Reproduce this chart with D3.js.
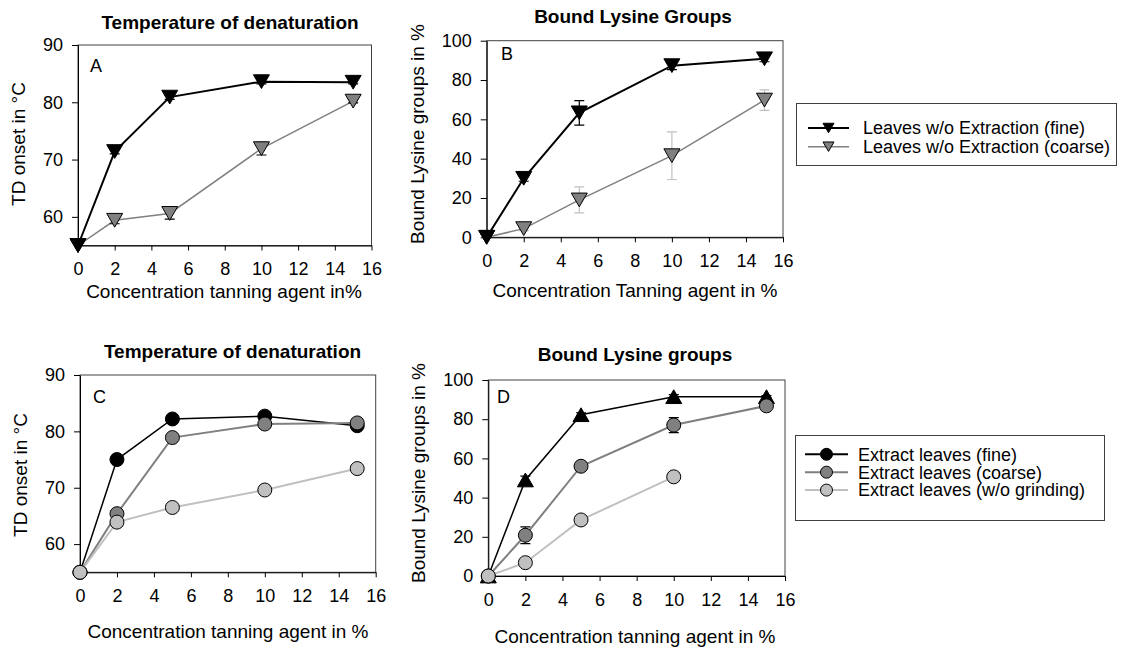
<!DOCTYPE html>
<html>
<head>
<meta charset="utf-8">
<script src="https://cdn.jsdelivr.net/npm/d3@7"></script>
<style>
  body { margin: 0; background: #fff; }
  svg { display: block; font-family: "Liberation Sans", Arial, sans-serif; }
</style>
</head>
<body>
<div id="chart"></div>
<script>
// concentrations of tanning agent (%)
const concentrations = [0, 2, 5, 10, 15];
const xTicks = [0, 2, 4, 6, 8, 10, 12, 14, 16];

// A: TD onset, leaves without extraction
const tdFine = [55, 71.4, 80.9, 83.6, 83.5];
const tdFineErr = [0, 0.4, 0.4, 0.4, 0.3];
const tdCoarse = [55, 59.4, 60.6, 71.9, 80.2];
const tdCoarseErr = [0, 0.6, 1.0, 1.1, 0.3];

// B: bound lysine groups, leaves without extraction
const lysFine = [0, 30, 63.3, 87.3, 90.8];
const lysFineErr = [0, 1.5, 6.2, 2, 1.5];
const lysCoarse = [0, 4.4, 19, 41.5, 69.8];
const lysCoarseErr = [0, 1, 6.6, 12.1, 5.2];

// C: TD onset, extracted leaves
const extTdFine = [55, 75, 82.2, 82.7, 81.0];
const extTdCoarse = [55, 65.4, 78.9, 81.3, 81.5];
const extTdWo = [55, 63.9, 66.5, 69.6, 73.4];

// D: bound lysine groups, extracted leaves
const extLysFine = [0, 49, 82.3, 91.5, 91.5];
const extLysFineErr = [0, 2, 1, 1, 0.5];
const extLysCoarse = [0, 20.8, 56, 77, 86.8];
const extLysCoarseErr = [0, 4.3, 1.5, 3.8, 1];
const extLysWo = [0, 6.8, 28.6, 50.6];

const legendTop = ["Leaves w/o Extraction (fine)", "Leaves w/o Extraction (coarse)"];
const legendBottom = ["Extract leaves (fine)", "Extract leaves (coarse)", "Extract leaves (w/o grinding)"];

const W = 1131, H = 648;
const svg = d3.select("#chart").append("svg").attr("width", W).attr("height", H);

function pts(vals, errs) {
  return vals.map((v, i) => ({x: concentrations[i], y: v, e: errs ? errs[i] : 0}));
}

function markerPath(shape, size) {
  const w = size / 2, h = size * 0.43;
  if (shape === "down") return "M" + (-w) + "," + (-h) + "L" + w + "," + (-h) + "L0," + h + "Z";
  if (shape === "up") return "M" + (-w) + "," + h + "L" + w + "," + h + "L0," + (-h) + "Z";
  return null;
}

function drawMarker(g, shape, x, y, size, fill, stroke) {
  if (shape === "circle") {
    g.append("circle").attr("cx", x).attr("cy", y).attr("r", size / 2)
      .attr("fill", fill).attr("stroke", stroke).attr("stroke-width", 1);
  } else {
    g.append("path").attr("d", markerPath(shape, size))
      .attr("transform", "translate(" + x + "," + y + ")")
      .attr("fill", fill).attr("stroke", stroke).attr("stroke-width", 1);
  }
}

function drawPanel(p) {
  const x = d3.scaleLinear().domain([0, 16]).range([p.left, p.right]);
  const y = d3.scaleLinear().domain(p.yDomain).range([p.bottom, p.top]);
  const g = svg.append("g");

  // frame
  g.append("rect").attr("x", p.left).attr("y", p.top)
    .attr("width", p.right - p.left).attr("height", p.bottom - p.top)
    .attr("fill", "none").attr("stroke", "#404040").attr("stroke-width", 1);

  const xAxis = g.append("g").attr("transform", "translate(0," + p.bottom + ")")
    .call(d3.axisBottom(x).tickValues(xTicks).tickSizeInner(5).tickSizeOuter(0).tickPadding(12));
  const yAxis = g.append("g").attr("transform", "translate(" + p.left + ",0)")
    .call(d3.axisLeft(y).tickValues(p.yTicks).tickSizeInner(6).tickSizeOuter(0).tickPadding(9));
  [xAxis, yAxis].forEach(a => {
    a.selectAll("text").attr("font-size", 18).attr("fill", "#000")
      .attr("font-family", "Liberation Sans, Arial, sans-serif");
    a.selectAll("line, path").attr("stroke", "#000");
  });
  xAxis.selectAll("text").attr("dy", "0.71em");

  g.append("text").attr("x", p.titleX).attr("y", p.titleY).attr("text-anchor", "middle")
    .attr("font-size", 19).attr("font-weight", "bold").text(p.title);
  g.append("text").attr("x", p.xTitleX).attr("y", p.xTitleY).attr("text-anchor", "middle")
    .attr("font-size", 19).text(p.xTitle);
  g.append("text").attr("transform", "translate(" + p.yTitleX + "," + p.yTitleY + ") rotate(-90)")
    .attr("text-anchor", "middle").attr("font-size", 19).text(p.yTitle);
  g.append("text").attr("x", p.letterX).attr("y", p.letterY).attr("font-size", 18).text(p.letter);

  const line = d3.line().x(d => x(d.x)).y(d => y(d.y));
  p.series.forEach(s => {
    const sg = g.append("g");
    sg.append("path").datum(s.data).attr("d", line)
      .attr("fill", "none").attr("stroke", s.color).attr("stroke-width", s.width);
    s.data.filter(d => d.e > 0).forEach(d => {
      const cx = x(d.x), y0 = y(d.y - d.e), y1 = y(d.y + d.e);
      sg.append("path")
        .attr("d", "M" + cx + "," + y0 + "V" + y1 + "M" + (cx - 5) + "," + y0 + "H" + (cx + 5) + "M" + (cx - 5) + "," + y1 + "H" + (cx + 5))
        .attr("fill", "none").attr("stroke", s.errColor).attr("stroke-width", 1.2);
    });
    s.data.forEach(d => drawMarker(sg, s.shape, x(d.x), y(d.y), s.size, s.fill, "#000"));
  });
}

function drawLegend(l) {
  const g = svg.append("g");
  g.append("rect").attr("x", l.x0).attr("y", l.y0).attr("width", l.x1 - l.x0).attr("height", l.y1 - l.y0)
    .attr("fill", "#fff").attr("stroke", "#404040").attr("stroke-width", 1);
  l.items.forEach((it, i) => {
    const cy = l.rowY + i * l.rowGap;
    g.append("line").attr("x1", l.lineX0).attr("x2", l.lineX1).attr("y1", cy).attr("y2", cy)
      .attr("stroke", it.color).attr("stroke-width", it.width);
    drawMarker(g, it.shape, (l.lineX0 + l.lineX1) / 2, cy, it.size, it.fill, "#000");
    g.append("text").attr("x", l.textX).attr("y", cy).attr("dy", "0.35em")
      .attr("font-size", 18).text(it.label);
  });
}

const blackDown = {shape: "down", size: 16, fill: "#000", color: "#000", width: 2, errColor: "#000"};
const grayDown = {shape: "down", size: 16, fill: "#808080", color: "#808080", width: 1.5, errColor: "#000"};

drawPanel({
  left: 78, right: 371.5, top: 45, bottom: 245.5, yDomain: [55, 90], yTicks: [60, 70, 80, 90],
  title: "Temperature of denaturation", titleX: 230, titleY: 29,
  xTitle: "Concentration tanning agent in%", xTitleX: 224, xTitleY: 298,
  yTitle: "TD onset in °C", yTitleX: 25, yTitleY: 144,
  letter: "A", letterX: 90, letterY: 72,
  series: [
    Object.assign({}, grayDown, {data: pts(tdCoarse, tdCoarseErr)}),
    Object.assign({}, blackDown, {data: pts(tdFine, tdFineErr)})
  ]
});

drawPanel({
  left: 486.7, right: 783, top: 40.7, bottom: 237.3, yDomain: [0, 100], yTicks: [0, 20, 40, 60, 80, 100],
  title: "Bound Lysine Groups", titleX: 633, titleY: 23,
  xTitle: "Concentration Tanning agent in %", xTitleX: 635, xTitleY: 297,
  yTitle: "Bound Lysine groups in %", yTitleX: 424, yTitleY: 134,
  letter: "B", letterX: 501, letterY: 60,
  series: [
    Object.assign({}, grayDown, {data: pts(lysCoarse, lysCoarseErr), errColor: "#c0c0c0"}),
    Object.assign({}, blackDown, {data: pts(lysFine, lysFineErr)})
  ]
});

const fineCircle = {shape: "circle", size: 14, fill: "#000", color: "#000", width: 1.5, errColor: "#000"};
const coarseCircle = {shape: "circle", size: 14, fill: "#808080", color: "#808080", width: 2, errColor: "#000"};
const woCircle = {shape: "circle", size: 14, fill: "#c0c0c0", color: "#c0c0c0", width: 2, errColor: "#000"};

drawPanel({
  left: 80, right: 375.7, top: 375, bottom: 572.3, yDomain: [55, 90], yTicks: [60, 70, 80, 90],
  title: "Temperature of denaturation", titleX: 232.5, titleY: 358,
  xTitle: "Concentration tanning agent in %", xTitleX: 228, xTitleY: 638,
  yTitle: "TD onset in °C", yTitleX: 27, yTitleY: 475,
  letter: "C", letterX: 93, letterY: 403,
  series: [
    Object.assign({}, fineCircle, {data: pts(extTdFine)}),
    Object.assign({}, coarseCircle, {data: pts(extTdCoarse)}),
    Object.assign({}, woCircle, {data: pts(extTdWo)})
  ]
});

drawPanel({
  left: 488.3, right: 785, top: 380, bottom: 576, yDomain: [0, 100], yTicks: [0, 20, 40, 60, 80, 100],
  title: "Bound Lysine groups", titleX: 635, titleY: 361,
  xTitle: "Concentration tanning agent in %", xTitleX: 635, xTitleY: 643,
  yTitle: "Bound Lysine groups in %", yTitleX: 425, yTitleY: 473,
  letter: "D", letterX: 497, letterY: 403,
  series: [
    Object.assign({}, blackDown, {shape: "up", width: 1.5, data: pts(extLysFine, extLysFineErr)}),
    Object.assign({}, coarseCircle, {data: pts(extLysCoarse, extLysCoarseErr)}),
    Object.assign({}, woCircle, {data: pts(extLysWo)})
  ]
});

drawLegend({
  x0: 796.5, x1: 1116.5, y0: 103.5, y1: 165.5, rowY: 128, rowGap: 18.7,
  lineX0: 808, lineX1: 849, textX: 863,
  items: [
    {label: legendTop[0], shape: "down", size: 11, fill: "#000", color: "#000", width: 2},
    {label: legendTop[1], shape: "down", size: 11, fill: "#808080", color: "#808080", width: 1.5}
  ]
});

drawLegend({
  x0: 795.5, x1: 1104.5, y0: 435.5, y1: 520.5, rowY: 454.3, rowGap: 17.9,
  lineX0: 805, lineX1: 848, textX: 858,
  items: [
    {label: legendBottom[0], shape: "circle", size: 12, fill: "#000", color: "#000", width: 2},
    {label: legendBottom[1], shape: "circle", size: 12, fill: "#808080", color: "#808080", width: 2},
    {label: legendBottom[2], shape: "circle", size: 12, fill: "#c0c0c0", color: "#c0c0c0", width: 2}
  ]
});
</script>
</body>
</html>
